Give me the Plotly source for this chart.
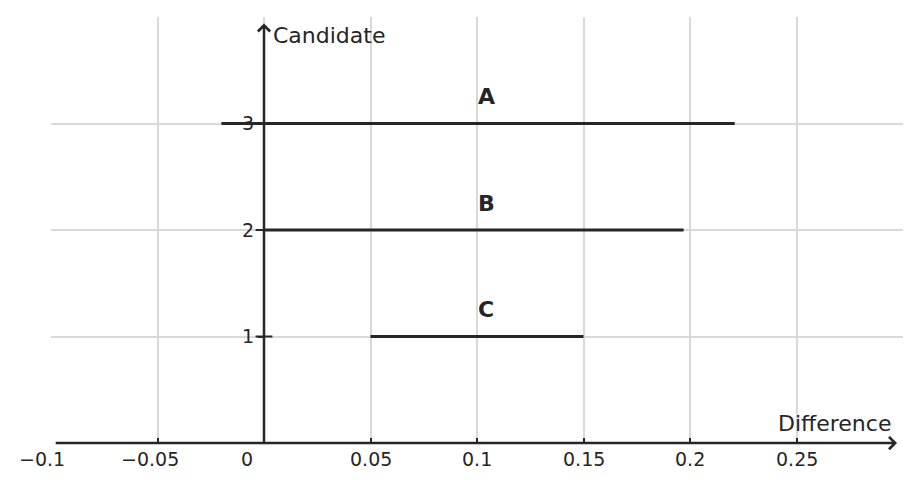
import plotly.graph_objects as go

# candidate intervals (difference)
candidates = ['C', 'B', 'A']
cand_pos = [1, 2, 3]
diff_low = [0.05, 0.0, -0.02]
diff_high = [0.15, 0.197, 0.221]

x_ticks = [-0.1, -0.05, 0, 0.05, 0.1, 0.15, 0.2, 0.25]
x_tick_labels = ['\u22120.1', '\u22120.05', '0', '0.05', '0.1', '0.15', '0.2', '0.25']
y_ticks = [0, 1, 2, 3]
y_tick_labels = ['', '1', '2', '3']

INK = '#262626'
GRID = '#d9d9d9'
FONT = 'DejaVu Sans'

fig = go.Figure()

for name, pos, lo, hi in zip(candidates, cand_pos, diff_low, diff_high):
    fig.add_trace(go.Scatter(
        x=[lo, hi],
        y=[pos, pos],
        mode='lines',
        line=dict(color=INK, width=3),
        name=name,
        hoverinfo='skip',
    ))
    fig.add_annotation(
        x=0.1, y=pos, text='<b>%s</b>' % name,
        showarrow=False, xanchor='left', yanchor='middle',
        yshift=27, xshift=-1,
        font=dict(family=FONT, size=22, color=INK),
    )

# y ticks cross the vertical axis
fig.add_trace(go.Scatter(
    x=[0] * (len(y_ticks) - 1),
    y=y_ticks[1:],
    mode='markers',
    marker=dict(symbol='line-ew', size=12, line=dict(color=INK, width=2)),
    hoverinfo='skip',
))

# x tick labels (negatives and zero sit a little to the left, as in the source)
label_shift = {-0.1: -9, -0.05: -8, 0: -17}
for v, t in zip(x_ticks, x_tick_labels):
    fig.add_annotation(
        x=v, y=0, text=t, showarrow=False,
        xanchor='center', yanchor='top',
        xshift=label_shift.get(v, 0), yshift=-3,
        font=dict(family=FONT, size=19, color=INK),
    )

# axis arrows
fig.add_annotation(
    x=0.2972, y=0, ax=-0.0985, ay=0, axref='x', ayref='y',
    text='', showarrow=True, arrowhead=4, arrowsize=0.95,
    arrowwidth=2.5, arrowcolor=INK, standoff=0, startstandoff=0,
)
fig.add_annotation(
    x=0, y=3.94, ax=0, ay=0, axref='x', ayref='y',
    text='', showarrow=True, arrowhead=4, arrowsize=0.95,
    arrowwidth=2.5, arrowcolor=INK, standoff=0, startstandoff=0,
)

fig.add_annotation(
    x=0, y=3.83, text='Candidate', showarrow=False,
    xanchor='left', yanchor='middle', xshift=7,
    font=dict(family=FONT, size=22, color=INK),
)
fig.add_annotation(
    x=0.2955, y=0, text='Difference', showarrow=False,
    xanchor='right', yanchor='bottom', yshift=5,
    font=dict(family=FONT, size=22, color=INK),
)

# page body keeps an 8px margin, so the figure is sized to fit inside it
fig.update_layout(
    width=904,
    height=475,
    showlegend=False,
    plot_bgcolor='#fff',
    paper_bgcolor='#fff',
    margin=dict(l=43, r=9, t=9, b=40),
    font=dict(family=FONT, size=19, color=INK),
    xaxis=dict(
        range=[-0.1, 0.3],
        tickvals=x_ticks,
        showticklabels=False,
        ticks='inside', ticklen=5, tickwidth=2, tickcolor=INK,
        showgrid=True, gridcolor=GRID, gridwidth=2,
        zeroline=False, showline=False,
    ),
    yaxis=dict(
        range=[0, 4],
        tickvals=y_ticks,
        ticktext=y_tick_labels,
        anchor='free', position=0.25,
        ticks='outside', ticklen=6, tickwidth=2, tickcolor=INK,
        showgrid=True, gridcolor=GRID, gridwidth=2,
        zeroline=False, showline=False,
        tickfont=dict(family=FONT, size=19, color=INK),
    ),
)

fig.write_html("out.html")
